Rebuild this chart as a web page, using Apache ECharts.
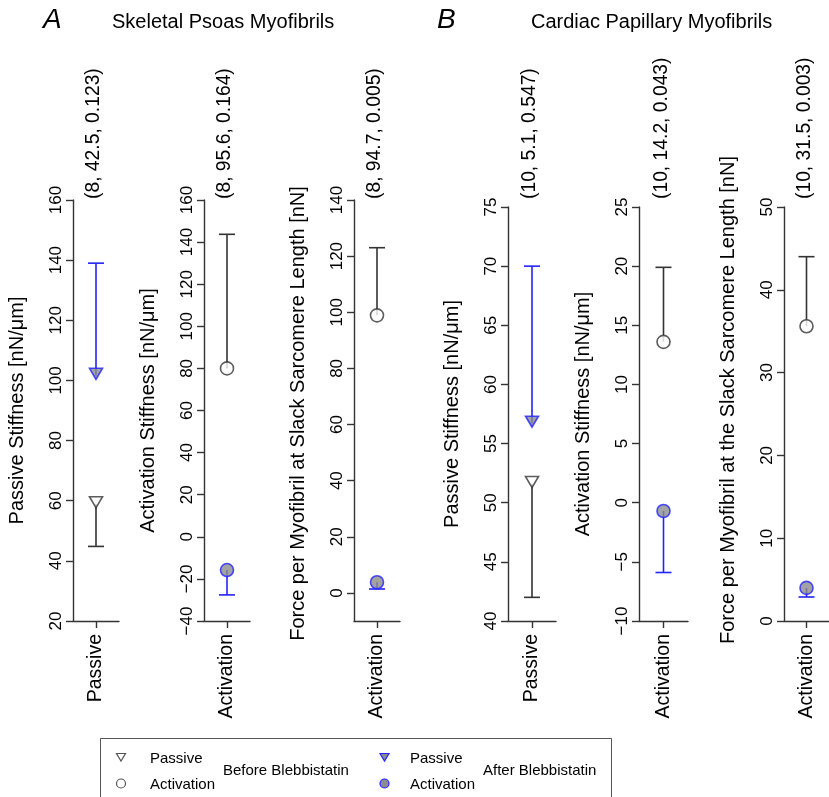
<!DOCTYPE html>
<html><head><meta charset="utf-8">
<script src="https://cdn.jsdelivr.net/npm/echarts@6/dist/echarts.min.js"></script>
<style>html,body{margin:0;padding:0;background:#fff}#c{width:829px;height:797px}</style>
</head><body><div id="c"></div>
<script>
// ---- data ----
const categories = ['Passive', 'Activation', 'Activation', 'Passive', 'Activation', 'Activation'];
const beforeMean = [58.9, 80.0, 98.9, 51.6, 13.6, 35.6];
const beforeBarEnd = [44.8, 143.7, 123.0, 42.0, 19.9, 44.0];
const afterMean = [101.6, -15.8, 3.8, 56.7, -0.7, 4.0];
const afterBarEnd = [139.0, -27.6, 1.4, 70.0, -5.9, 2.9];
const yMin = [20, -40, -10, 40, -10, 0];
const yMax = [160, 160, 140, 75, 25, 50];
const yStep = [20, 20, 20, 5, 5, 10];
const yTickStart = [20, -40, 0, 40, -10, 0];
const yTitles = [
  'Passive Stiffness [nN/\u03bcm]',
  'Activation Stiffness [nN/\u03bcm]',
  'Force per Myofibril at Slack Sarcomere Length [nN]',
  'Passive Stiffness [nN/\u03bcm]',
  'Activation Stiffness [nN/\u03bcm]',
  'Force per Myofibril at the Slack Sarcomere Length [nN]'
];
const annotations = ['(8, 42.5, 0.123)', '(8, 95.6, 0.164)', '(8, 94.7, 0.005)',
                     '(10, 5.1, 0.547)', '(10, 14.2, 0.043)', '(10, 31.5, 0.003)'];
const panelTitles = ['Skeletal Psoas Myofibrils', 'Cardiac Papillary Myofibrils'];
const panelLetters = ['A', 'B'];
const legendGroups = ['Before Blebbistatin', 'After Blebbistatin'];
const legendItems = ['Passive', 'Activation'];

// ---- layout / style ----
const gridLeft = [73, 204, 354, 508, 639, 784];
const gridWidth = [46, 46, 46, 48, 49, 47];
const gridTop = [200, 200, 200, 207, 207, 207];
const gridHeight = [421, 421, 421, 414, 414, 414];
const namePadding = [[0,0,0,0],[0,0,0,0],[0,6,0,0],[0,0,0,0],[0,0,0,0],[0,0,0,28]];
const FONT = 'Liberation Sans, Arial, Helvetica, sans-serif';
const DARK = '#333333';
const BLUE = '#2222ff';
const GRAY = '#8c8c8c';

function ticks(i) {
  const out = [];
  for (let v = yTickStart[i]; v <= yMax[i] + 1e-9; v += yStep[i]) out.push(v);
  return out;
}
function errRender(color) {
  return function (params, api) {
    const p0 = api.coord([api.value(0), api.value(1)]);
    const p1 = api.coord([api.value(0), api.value(2)]);
    const hw = 8;
    return {
      type: 'group',
      children: [
        { type: 'line', shape: { x1: p0[0], y1: p0[1], x2: p1[0], y2: p1[1] }, style: { stroke: color, lineWidth: 1.6 } },
        { type: 'line', shape: { x1: p1[0] - hw, y1: p1[1], x2: p1[0] + hw, y2: p1[1] }, style: { stroke: color, lineWidth: 1.6 } }
      ]
    };
  };
}

const grids = [], xAxes = [], yAxes = [], series = [];
for (let i = 0; i < 6; i++) {
  grids.push({ left: gridLeft[i], width: gridWidth[i], top: gridTop[i], height: gridHeight[i], containLabel: false });
  xAxes.push({
    type: 'category', gridIndex: i, data: [categories[i]],
    axisLine: { show: true, onZero: false, lineStyle: { color: DARK, width: 1.4 } },
    axisTick: { show: true, inside: false, alignWithLabel: true, length: 7, lineStyle: { color: DARK, width: 1.4 } },
    axisLabel: { rotate: 90, margin: 13, fontSize: 19.5, color: '#000', fontFamily: FONT },
    splitLine: { show: false }
  });
  const tv = ticks(i);
  const yAx = {
    type: 'value', gridIndex: i, min: yMin[i], max: yMax[i],
    name: yTitles[i], nameLocation: 'middle', nameGap: 46,
    nameTextStyle: { fontSize: 20, color: '#000', fontFamily: FONT, padding: namePadding[i] },
    axisLine: { show: true, onZero: false, lineStyle: { color: DARK, width: 1.4 } },
    axisTick: { show: true, inside: false, length: 7, lineStyle: { color: DARK, width: 1.4 } },
    axisLabel: {
      rotate: 90, margin: 8, fontSize: 17, color: '#000', fontFamily: FONT,
      formatter: v => String(v).replace('-', '\u2212')
    },
    splitLine: { show: false }
  };
  if (yTickStart[i] === yMin[i]) {
    yAx.interval = yStep[i];
  } else {
    yAx.axisTick.customValues = tv;
    yAx.axisLabel.customValues = tv;
  }
  yAxes.push(yAx);
  const isTri = categories[i] === 'Passive';
  const sym = isTri ? 'triangle' : 'circle';
  const symSize = isTri ? [13, 11] : 13;
  const symRot = isTri ? 180 : 0;
  const symOff = isTri ? [0, -1.8] : [0, 0];
  series.push({
    type: 'custom', xAxisIndex: i, yAxisIndex: i, z: 2,
    renderItem: errRender(DARK), encode: { x: 0, y: [1, 2] },
    data: [[0, beforeMean[i], beforeBarEnd[i]]]
  });
  series.push({
    type: 'custom', xAxisIndex: i, yAxisIndex: i, z: 2,
    renderItem: errRender(BLUE), encode: { x: 0, y: [1, 2] },
    data: [[0, afterMean[i], afterBarEnd[i]]]
  });
  series.push({
    type: 'scatter', xAxisIndex: i, yAxisIndex: i, z: 5,
    symbol: sym, symbolSize: symSize, symbolRotate: symRot, symbolOffset: symOff,
    itemStyle: { color: '#fff', borderColor: DARK, borderWidth: 1.6 },
    emphasis: { disabled: true },
    data: [[0, beforeMean[i]]]
  });
  series.push({
    type: 'scatter', xAxisIndex: i, yAxisIndex: i, z: 5,
    symbol: sym, symbolSize: symSize, symbolRotate: symRot, symbolOffset: symOff,
    itemStyle: { color: GRAY, borderColor: BLUE, borderWidth: 1.6 },
    emphasis: { disabled: true },
    data: [[0, afterMean[i]]]
  });
}

const chart = echarts.init(document.getElementById('c'), null, { renderer: 'canvas' });
chart.setOption({
  animation: false,
  backgroundColor: '#fff',
  textStyle: { fontFamily: FONT },
  title: [
    { text: panelLetters[0], left: 43, top: 6, padding: 0, textStyle: { fontSize: 28, fontStyle: 'italic', fontWeight: 'normal', color: '#000', fontFamily: FONT } },
    { text: panelTitles[0], left: 112, top: 12, padding: 0, textStyle: { fontSize: 20, fontWeight: 'normal', color: '#000', fontFamily: FONT } },
    { text: panelLetters[1], left: 437, top: 6, padding: 0, textStyle: { fontSize: 28, fontStyle: 'italic', fontWeight: 'normal', color: '#000', fontFamily: FONT } },
    { text: panelTitles[1], left: 531, top: 12, padding: 0, textStyle: { fontSize: 20, fontWeight: 'normal', color: '#000', fontFamily: FONT } }
  ],
  grid: grids, xAxis: xAxes, yAxis: yAxes, series: series
});

// annotations (positioned from the axes) + legend
const graphics = [];
for (let i = 0; i < 6; i++) {
  const p = chart.convertToPixel({ gridIndex: i }, [0, yMax[i]]);
  graphics.push({
    type: 'text', x: p[0] - 2, y: 199, rotation: Math.PI / 2,
    style: { text: annotations[i], fontSize: 19.3, fontFamily: FONT, fill: '#000', align: 'left', verticalAlign: 'middle' }
  });
}
const LX = [121, 384.5], TX = [150, 410], GX = [223, 483];
graphics.push({ type: 'rect', shape: { x: 100.5, y: 738.5, width: 511, height: 80 }, style: { fill: 'none', stroke: '#555', lineWidth: 1 } });
for (let g = 0; g < 2; g++) {
  const fill = g === 0 ? 'none' : GRAY;
  const stroke = g === 0 ? '#555' : BLUE;
  const cx = LX[g];
  graphics.push({ type: 'polygon', shape: { points: [[cx - 4.5, 753.5], [cx + 4.5, 753.5], [cx, 761]] }, style: { fill: fill, stroke: stroke, lineWidth: 1.2 } });
  graphics.push({ type: 'circle', shape: { cx: cx, cy: 783.5, r: 4.5 }, style: { fill: fill, stroke: stroke, lineWidth: 1.2 } });
  graphics.push({ type: 'text', x: TX[g], y: 759, style: { text: legendItems[0], fontSize: 15, fontFamily: FONT, fill: '#000', verticalAlign: 'middle' } });
  graphics.push({ type: 'text', x: TX[g], y: 785, style: { text: legendItems[1], fontSize: 15, fontFamily: FONT, fill: '#000', verticalAlign: 'middle' } });
  graphics.push({ type: 'text', x: GX[g], y: 771, style: { text: legendGroups[g], fontSize: 15, fontFamily: FONT, fill: '#000', verticalAlign: 'middle' } });
}
chart.setOption({ graphic: graphics });
</script>
</body></html>
